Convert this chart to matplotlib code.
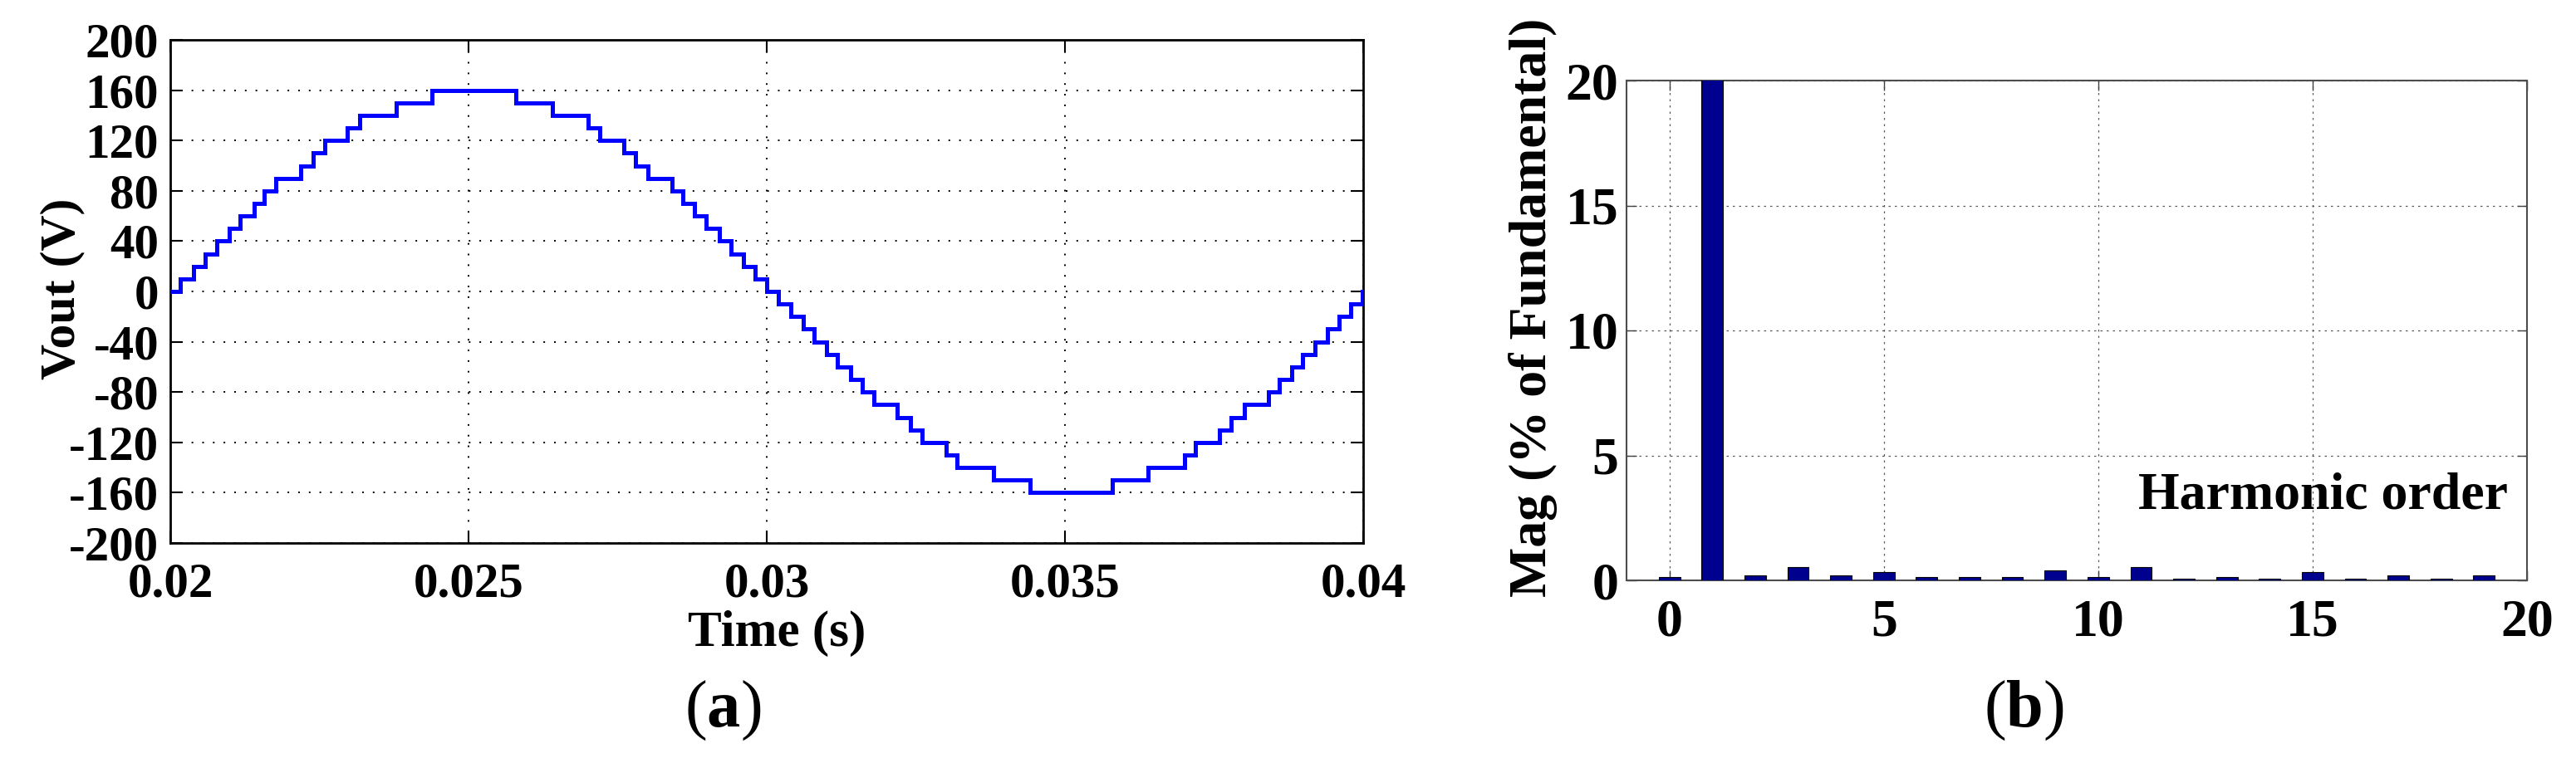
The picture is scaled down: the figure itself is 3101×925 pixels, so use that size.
import matplotlib
matplotlib.use('Agg')
import matplotlib.pyplot as plt

plt.rcParams['font.family'] = ['Liberation Serif', 'DejaVu Serif']
plt.rcParams['font.weight'] = 'bold'
plt.rcParams['axes.unicode_minus'] = False
plt.rcParams['mathtext.fontset'] = 'custom'
plt.rcParams['mathtext.rm'] = 'Liberation Serif'
plt.rcParams['mathtext.bf'] = 'Liberation Serif:bold'

# (a) staircase output voltage: start time of each step (s) and its level (V)
step_t = [0.020000, 0.020164, 0.020390, 0.020581, 0.020780, 0.020989, 0.021174, 0.021407,
          0.021578, 0.021765, 0.022182, 0.022391, 0.022586, 0.022971, 0.023171, 0.023784,
          0.024387, 0.025787, 0.026407, 0.027006, 0.027205, 0.027600, 0.027806, 0.028011,
          0.028419, 0.028600, 0.028788, 0.028990, 0.029206, 0.029401, 0.029610, 0.029805,
          0.030004, 0.030191, 0.030400, 0.030609, 0.030794, 0.031003, 0.031188, 0.031411,
          0.031597, 0.031792, 0.032187, 0.032409, 0.032604, 0.033008, 0.033194, 0.033802,
          0.034415, 0.035787, 0.036397, 0.037001, 0.037187, 0.037595, 0.037790, 0.038013,
          0.038408, 0.038593, 0.038802, 0.038988, 0.039196, 0.039397, 0.039600, 0.039791,
          0.039986]
step_v = [0, 10, 20, 30, 40, 50, 60, 70, 80, 90, 100, 110, 120, 130, 140, 150,
          160, 150, 140, 130, 120, 110, 100, 90, 80, 70, 60, 50, 40, 30, 20, 10,
          0, -10, -20, -30, -40, -50, -60, -70, -80, -90, -100, -110, -120, -130, -140, -150,
          -160, -150, -140, -130, -120, -110, -100, -90, -80, -70, -60, -50, -40, -30, -20, -10,
          0]
t_end = 0.04

time_ticks = [0.02, 0.025, 0.03, 0.035, 0.04]
time_labels = ['0.02', '0.025', '0.03', '0.035', '0.04']
volt_ticks = [-200, -160, -120, -80, -40, 0, 40, 80, 120, 160, 200]

# (b) harmonic spectrum in % of fundamental (fundamental is clipped by the axis)
harm_order = [0, 1, 2, 3, 4, 5, 6, 7, 8, 9, 10, 11, 12, 13, 14, 15, 16, 17, 18, 19]
harm_mag = [0.13, 100, 0.2, 0.53, 0.2, 0.33, 0.13, 0.13, 0.13, 0.4,
            0.13, 0.53, 0.07, 0.13, 0.07, 0.33, 0.07, 0.2, 0.07, 0.2]
harm_ticks = [0, 5, 10, 15, 20]
mag_ticks = [0, 5, 10, 15, 20]

W, H = 3101, 925
fig = plt.figure(figsize=(W / 100, H / 100), dpi=100)

# ---- left: waveform
ax1 = fig.add_axes([205 / W, 1 - 654 / H, 1436 / W, 606 / H])
ax1.step(step_t + [t_end], step_v + [step_v[-1]], where='post', color='#0000ff',
         lw=3.6, solid_joinstyle='miter', zorder=3)
ax1.set_xlim(0.02, 0.04)
ax1.set_ylim(-200, 200)
ax1.set_xticks(time_ticks)
ax1.set_xticklabels(time_labels)
ax1.set_yticks(volt_ticks)
ax1.grid(True, color='black', lw=1.4, linestyle=(0, (1, 5.6)))
ax1.set_axisbelow(True)
ax1.tick_params(direction='in', length=11, width=1.5, top=True, right=True,
                labelsize=42.5)
ax1.tick_params(axis='x', pad=17)
ax1.tick_params(axis='y', pad=10)
for s in ax1.spines.values():
    s.set_linewidth(2)
    s.set_color('black')

fig.text(75 / W, 1 - 348 / H, 'Vout (V)', rotation=90, ha='center', va='center',
         fontsize=43)
fig.text(935 / W, 1 - 778 / H, 'Time (s)', ha='center', va='baseline', fontsize=44)
fig.text(870 / W, 1 - 856 / H, r'($\mathbf{a}$)', ha='center', va='center',
         fontsize=58, fontweight='normal')

# ---- right: spectrum
ax2 = fig.add_axes([1958 / W, 1 - 699 / H, 1084 / W, 602 / H])
ax2.bar(harm_order, harm_mag, width=0.5, color='#00008f', edgecolor='black',
        linewidth=0.8, zorder=3)
ax2.set_xlim(-1, 20)
ax2.set_ylim(0, 20)
ax2.set_xticks(harm_ticks)
ax2.set_yticks(mag_ticks)
ax2.grid(True, color='0.35', lw=0.9, linestyle=(0, (2, 4)))
ax2.set_axisbelow(True)
ax2.tick_params(direction='in', length=8.5, width=1, top=True, right=True,
                labelsize=46, color='0.25')
ax2.tick_params(axis='x', pad=16)
ax2.tick_params(axis='y', pad=7)
for s in ax2.spines.values():
    s.set_linewidth(1.5)
    s.set_color('0.3')
ax2.text(0.979, 0.143, 'Harmonic order', transform=ax2.transAxes, ha='right',
         va='baseline', fontsize=46, zorder=4)

fig.text(1845 / W, 1 - 370 / H, 'Mag (% of Fundamental)', rotation=90, ha='center',
         va='center', fontsize=46)
fig.text(2436 / W, 1 - 856 / H, r'($\mathbf{b}$)', ha='center', va='center',
         fontsize=58, fontweight='normal')

fig.savefig('out.png', dpi=100)
